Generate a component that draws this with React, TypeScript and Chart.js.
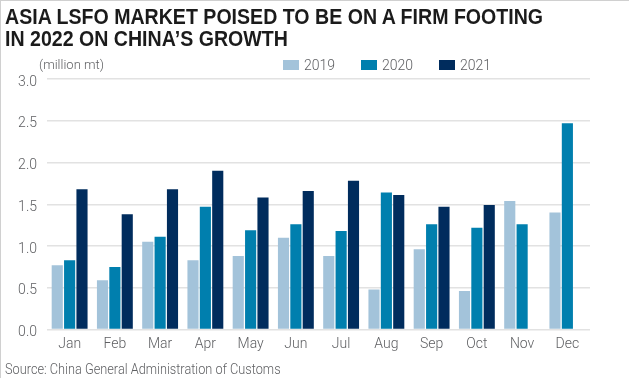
import React, { useEffect, useRef } from "react";
import { Chart, registerables } from "chart.js";

Chart.register(...registerables);

const months = ["Jan", "Feb", "Mar", "Apr", "May", "Jun", "Jul", "Aug", "Sep", "Oct", "Nov", "Dec"];
const series2019 = [0.77, 0.59, 1.05, 0.83, 0.88, 1.1, 0.88, 0.48, 0.96, 0.46, 1.54, 1.4];
const series2020 = [0.83, 0.75, 1.11, 1.47, 1.19, 1.26, 1.18, 1.64, 1.26, 1.22, 1.26, 2.47];
const series2021 = [1.68, 1.38, 1.68, 1.9, 1.58, 1.66, 1.78, 1.61, 1.47, 1.49, null, null];
const seriesNames = ["2019", "2020", "2021"];
const seriesColors = ["#a3c3da", "#007fae", "#002c5d"];
const yTicks = [0, 0.5, 1, 1.5, 2, 2.5, 3];

const titleLines = ["ASIA LSFO MARKET POISED TO BE ON A FIRM FOOTING", "IN 2022 ON CHINA\u2019S GROWTH"];
const unitLabel = "(million mt)";
const sourceText = "Source: China General Administration of Customs";

const textFont = "Roboto, 'Noto Sans', sans-serif";
const textColor = "#5f6063";

export default function App() {
  const canvasRef = useRef<HTMLCanvasElement | null>(null);

  useEffect(() => {
    document.body.style.margin = "0";
    const canvas = canvasRef.current;
    if (!canvas) return;
    const values = [series2019, series2020, series2021];
    const chart = new Chart(canvas, {
      type: "bar",
      data: {
        labels: months,
        datasets: seriesNames.map((name, i) => ({
          label: name,
          data: values[i],
          backgroundColor: seriesColors[i],
          borderWidth: 0,
          categoryPercentage: 0.82,
          barPercentage: 0.9,
        })),
      },
      options: {
        responsive: false,
        devicePixelRatio: 1,
        animation: false,
        layout: { padding: { left: 0, right: 39, top: 79, bottom: 0 } },
        plugins: {
          legend: { display: false },
          title: { display: false },
          tooltip: { enabled: false },
        },
        scales: {
          x: {
            grid: { display: false, drawTicks: false },
            border: { display: false },
            ticks: {
              padding: 7,
              color: textColor,
              font: { family: textFont, size: 14, weight: 300 },
            },
            afterFit: (s: any) => {
              s.height = 54.5;
            },
          },
          y: {
            min: 0,
            max: 3,
            afterBuildTicks: (s: any) => {
              s.ticks = yTicks.map((v) => ({ value: v }));
            },
            grid: { color: "#e2e2e2", lineWidth: 1.5, drawTicks: false },
            border: { display: false },
            ticks: {
              padding: 10,
              labelOffset: 3,
              color: textColor,
              font: { family: textFont, size: 14, weight: 300 },
              callback: (v: any) => Number(v).toFixed(1),
            },
            afterFit: (s: any) => {
              s.width = 47;
            },
          },
        },
      },
    });
    return () => chart.destroy();
  }, []);

  return (
    <div
      style={{
        position: "fixed",
        left: 0,
        top: 0,
        width: 629,
        height: 384,
        background: "#fff",
        overflow: "hidden",
      }}
    >
      <div style={{ position: "absolute", left: 0, top: 0, width: 629, height: 1, background: "#d0d0d0" }} />
      <div style={{ position: "absolute", left: 0, top: 0, width: 1, height: 378, background: "#d0d0d0" }} />
      <canvas ref={canvasRef} width={629} height={384} style={{ position: "absolute", left: 0, top: 0 }} />
      <div
        style={{
          position: "absolute",
          left: 5,
          top: 6,
          fontFamily: "'Liberation Sans Narrow', 'Liberation Sans', sans-serif",
          fontWeight: 700,
          fontSize: 22,
          lineHeight: "22px",
          color: "#1b1b1b",
          whiteSpace: "nowrap",
          transform: "scaleX(0.89)",
          transformOrigin: "left top",
        }}
      >
        {titleLines.map((l, i) => (
          <div key={i}>{l}</div>
        ))}
      </div>
      <div
        style={{
          position: "absolute",
          left: 39,
          top: 57,
          fontFamily: textFont,
          fontWeight: 300,
          fontSize: 13,
          lineHeight: "16px",
          color: textColor,
          whiteSpace: "nowrap",
        }}
      >
        {unitLabel}
      </div>
      {seriesNames.map((name, i) => (
        <div
          key={name}
          style={{
            position: "absolute",
            left: 283 + i * 78,
            top: 56,
            height: 18,
            display: "flex",
            alignItems: "center",
            fontFamily: textFont,
            fontWeight: 300,
            fontSize: 14,
            color: textColor,
            whiteSpace: "nowrap",
          }}
        >
          <span style={{ display: "inline-block", width: 16, height: 10, background: seriesColors[i], marginRight: 5 }} />
          <span>{name}</span>
        </div>
      ))}
      <div
        style={{
          position: "absolute",
          left: 5,
          top: 360,
          fontFamily: textFont,
          fontWeight: 300,
          fontSize: 15,
          lineHeight: "18px",
          color: textColor,
          whiteSpace: "nowrap",
          transform: "scaleX(0.85)",
          transformOrigin: "left top",
        }}
      >
        {sourceText}
      </div>
    </div>
  );
}
